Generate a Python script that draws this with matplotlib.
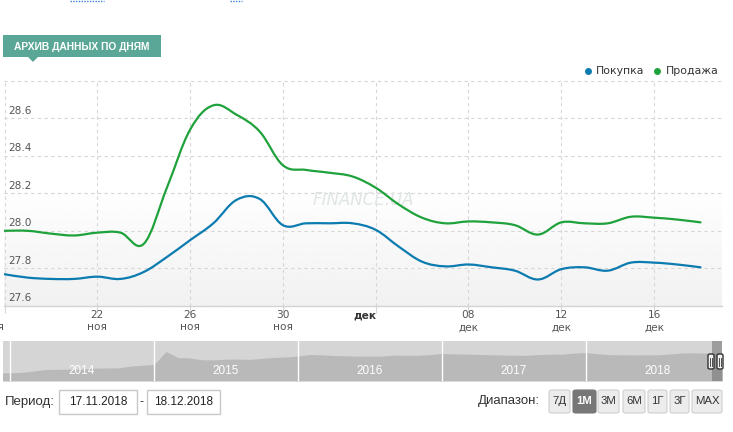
import matplotlib
matplotlib.use("Agg")
import matplotlib.pyplot as plt
import numpy as np
from matplotlib.path import Path
from matplotlib.patches import PathPatch, Rectangle, FancyBboxPatch, Polygon
from matplotlib.transforms import blended_transform_factory
from matplotlib.lines import Line2D

# Дни периода 18.11.2018 - 18.12.2018 (0 = 18 ноя)
days = np.arange(31)
buy = [27.768, 27.75, 27.743, 27.743, 27.755, 27.743, 27.78, 27.86, 27.95, 28.04,
       28.165, 28.17, 28.03, 28.04, 28.04, 28.04, 28.005, 27.915, 27.835, 27.81,
       27.82, 27.805, 27.787, 27.74, 27.795, 27.805, 27.787, 27.83, 27.83, 27.82, 27.805]
sell = [28.00, 28.00, 27.985, 27.975, 27.99, 27.99, 27.93, 28.23, 28.54, 28.67,
        28.62, 28.53, 28.35, 28.325, 28.31, 28.29, 28.23, 28.14, 28.07, 28.04,
        28.05, 28.045, 28.03, 27.98, 28.045, 28.04, 28.04, 28.075, 28.07, 28.06, 28.045]

tick_days = [0, 4, 8, 12, 16, 20, 24, 28]
tick_nums = ['18', '22', '26', '30', '', '08', '12', '16']
tick_months = ['ноя', 'ноя', 'ноя', 'ноя', 'дек', 'дек', 'дек', 'дек']
y_ticks = [27.6, 27.8, 28.0, 28.2, 28.4, 28.6]

# Навигатор: месячные значения курса, дек 2013 - дек 2018
nav_vals = [8.2,
            8.3, 8.7, 10.0, 11.5, 11.7, 11.8, 11.9, 12.9, 13.0, 13.1, 14.8, 15.8,
            16.5, 29.5, 23.5, 23.0, 21.2, 21.1, 21.8, 21.9, 21.6, 22.6, 23.6, 24.0,
            25.0, 26.5, 26.1, 25.5, 25.2, 24.9, 24.8, 24.9, 25.9, 25.7, 25.7, 26.4,
            27.6, 27.1, 26.9, 26.6, 26.3, 26.0, 25.8, 25.6, 26.4, 26.8, 26.8, 27.9,
            28.4, 27.2, 26.3, 26.2, 26.1, 26.2, 26.2, 27.0, 28.0, 28.2, 27.8, 27.9]
years = ['2014', '2015', '2016', '2017', '2018']
period_start = 2018 + 320 / 365
period_end = 2018 + 351 / 365

ranges = ['7Д', '1М', '3М', '6М', '1Г', '3Г', 'МАХ']

BLUE = '#0b7bb0'
GREEN = '#1fa23b'
TEAL = '#5ba797'
W, H = 733, 432


def fx(x):
    return x / W


def fy(y):
    return 1 - y / H


def spline(xs, ys, k=0.18):
    xs = np.asarray(xs, float)
    ys = np.asarray(ys, float)
    pts = np.column_stack([xs, ys])
    verts = [pts[0]]
    codes = [Path.MOVETO]
    n = len(pts)
    for i in range(n - 1):
        p0 = pts[max(i - 1, 0)]
        p1 = pts[i]
        p2 = pts[i + 1]
        p3 = pts[min(i + 2, n - 1)]
        verts += [p1 + (p2 - p0) * k, p2 - (p3 - p1) * k, p2]
        codes += [Path.CURVE4] * 3
    return Path(verts, codes)


fig = plt.figure(figsize=(W / 100, H / 100), dpi=100)
fig.patch.set_facecolor('white')

# --- основной график
ax = fig.add_axes([fx(4), fy(305.7), (722 - 4) / W, (305.7 - 81) / H])
x0 = -0.5 / 23.2
x1 = (722 - 4.5) / 23.2
ax.set_xlim(x0, x1)
ax.set_ylim(27.6, 28.8)

grad = np.ones((200, 2))
yy = np.linspace(28.8, 27.6, 200)
grad[:, :] = np.where(yy[:, None] > 28.25, 1.0, 1.0 - (28.25 - yy[:, None]) / 0.65 * 0.055)
ax.imshow(grad, cmap='gray', vmin=0, vmax=1, aspect='auto',
          extent=[x0, x1, 27.6, 28.8], zorder=0)

for v in [27.8, 28.0, 28.2, 28.4, 28.6, 28.8]:
    ax.axhline(v, color='#d6d6d6', lw=0.8, ls=(0, (3, 3)), zorder=1, clip_on=False)
for d in tick_days:
    ax.axvline(d, color='#d6d6d6', lw=0.8, ls=(0, (3, 3)), zorder=1)

for s in ['left', 'top', 'right']:
    ax.spines[s].set_visible(False)
ax.spines['bottom'].set_color('#d3d3d3')
ax.spines['bottom'].set_linewidth(1.0)
ax.set_xticks(tick_days)
ax.set_xticklabels([])
ax.tick_params(axis='x', length=5, color='#d6d6d6', width=0.8)
ax.set_yticks([])

# водяной знак (под линиями)
ax.text(0.5, 0.469, 'FINANCE.UA', transform=ax.transAxes, fontsize=12,
        fontstyle='oblique', color='#e0e5e5', ha='center', va='center', zorder=2)

ax.add_patch(PathPatch(spline(days, sell), fill=False, edgecolor=GREEN, lw=1.6,
                       zorder=4, capstyle='round', joinstyle='round'))
ax.add_patch(PathPatch(spline(days, buy), fill=False, edgecolor=BLUE, lw=1.6,
                       zorder=4, capstyle='round', joinstyle='round'))

ytr = blended_transform_factory(fig.transFigure, ax.transData)
for v in y_ticks:
    ax.text(fx(8), v + 0.013, f'{v:.1f}', transform=ytr, fontsize=7.6,
            color='#555555', va='bottom', ha='left', zorder=5)

xtr = blended_transform_factory(ax.transData, fig.transFigure)
for d, num, mon in zip(tick_days, tick_nums, tick_months):
    if d == 0:
        # подпись у левого края обрезана, как в оригинале
        fig.text(fx(-6), fy(327), mon, fontsize=7.6, color='#555555',
                 ha='center', va='center')
    elif num == '':
        ax.text(d + 0.05, fy(315), mon, transform=xtr, fontsize=7.6,
                color='#333333', ha='right', va='center', fontweight='bold')
    else:
        ax.text(d, fy(315), num, transform=xtr, fontsize=7.6, color='#555555',
                ha='center', va='center')
        ax.text(d, fy(327.5), mon, transform=xtr, fontsize=7.6,
                color='#555555', ha='center', va='center')

# --- заголовок
fig.add_artist(Rectangle((fx(3), fy(57)), 158 / W, 22 / H, transform=fig.transFigure,
                         facecolor=TEAL, edgecolor='none'))
fig.add_artist(Polygon([(fx(28), fy(57)), (fx(38), fy(57)), (fx(33), fy(62))],
                       closed=True, transform=fig.transFigure, facecolor=TEAL,
                       edgecolor='none'))
fig.text(fx(82), fy(46.5), 'АРХИВ ДАННЫХ ПО ДНЯМ', fontsize=7.4, fontweight='bold',
         family=['Liberation Sans', 'DejaVu Sans'],
         color='white', ha='center', va='center')

# верхние пунктирные ссылки
for a, b in [(70, 104), (230, 242)]:
    fig.add_artist(Line2D([fx(a), fx(b)], [fy(0.7), fy(0.7)], transform=fig.transFigure,
                          color='#3b7fe0', lw=1.0, ls=(0, (1, 1))))

# легенда
for cx, tx, label, col in [(588, 596, 'Покупка', BLUE), (657, 666, 'Продажа', GREEN)]:
    fig.add_artist(Line2D([fx(cx)], [fy(71)], transform=fig.transFigure, marker='o',
                          markersize=5, color=col, markeredgewidth=0))
    fig.text(fx(tx), fy(71), label, fontsize=7.8, color='#333333', ha='left',
             va='center')

# --- навигатор
nav = fig.add_axes([fx(3), fy(381), (722 - 3) / W, 40 / H])
nav_x = 2013 + (11 + np.arange(len(nav_vals))) / 12
nav_x = np.append(nav_x, period_end)
nav_y = np.append(nav_vals, nav_vals[-1])
nav.set_xlim(2014 + (3 - 10) / 144, 2014 + (722 - 10) / 144)
nav.set_ylim(0, 40)
nav.set_facecolor('#d5d5d5')
nav.fill_between(nav_x, 0, nav_y, color='#b9b9b9', lw=0, zorder=1)
for i, yr in enumerate(years):
    nav.axvline(2014 + i, color='white', lw=1.0, zorder=2)
    nav.text(2014 + i + 0.5, 10, yr, color='white', fontsize=8.5, ha='center',
             va='center', family=['Liberation Sans', 'DejaVu Sans'], zorder=3)
nav.axvspan(period_start, period_end, color='#6f6f6f', alpha=0.55, lw=0, zorder=2)
nav.set_xticks([])
nav.set_yticks([])
for s in nav.spines.values():
    s.set_visible(False)

for hx in [708, 717]:
    fig.add_artist(FancyBboxPatch((fx(hx), fy(369)), 6 / W, 15 / H,
                                  boxstyle='round,pad=0,rounding_size=0.003',
                                  transform=fig.transFigure, facecolor='#f2f2f2',
                                  edgecolor='#333333', lw=1.0))
    for lx in [hx + 2.3, hx + 3.7]:
        fig.add_artist(Line2D([fx(lx), fx(lx)], [fy(358), fy(366)],
                              transform=fig.transFigure, color='#333333', lw=0.6))

# --- нижняя панель
ui_font = ['Liberation Sans', 'DejaVu Sans']
fig.text(fx(5), fy(402), 'Период:', fontsize=9.5, color='#333333', ha='left',
         va='center', family=ui_font)
for bx0, bx1, label in [(59, 137, '17.11.2018'), (147, 220, '18.12.2018')]:
    fig.add_artist(Rectangle((fx(bx0), fy(414)), (bx1 - bx0) / W, 24 / H,
                             transform=fig.transFigure, facecolor='white',
                             edgecolor='#c8c8c8', lw=1.0))
    fig.text(fx((bx0 + bx1) / 2), fy(402), label, fontsize=8.5, color='#222222',
             ha='center', va='center', family=ui_font)
fig.text(fx(141.5), fy(402), '-', fontsize=9, color='#333333', ha='center',
         va='center', family=ui_font)
fig.text(fx(478), fy(401), 'Диапазон:', fontsize=9.5, color='#333333', ha='left',
         va='center', family=ui_font)

btn_pos = [(549, 570), (573, 596), (598, 619), (623, 645), (648, 667), (670, 689),
           (692, 722)]
for (bx0, bx1), label in zip(btn_pos, ranges):
    active = label == '1М'
    fig.add_artist(FancyBboxPatch((fx(bx0), fy(413)), (bx1 - bx0) / W, 23 / H,
                                  boxstyle='round,pad=0,rounding_size=0.004',
                                  transform=fig.transFigure,
                                  facecolor='#777777' if active else '#ececec',
                                  edgecolor='#777777' if active else '#cfcfcf',
                                  lw=0.8))
    fig.text(fx((bx0 + bx1) / 2), fy(401.5), label, fontsize=8.2,
             color='white' if active else '#333333',
             fontweight='bold' if active else 'normal',
             ha='center', va='center', family=ui_font)

fig.savefig('out.png', dpi=100)
